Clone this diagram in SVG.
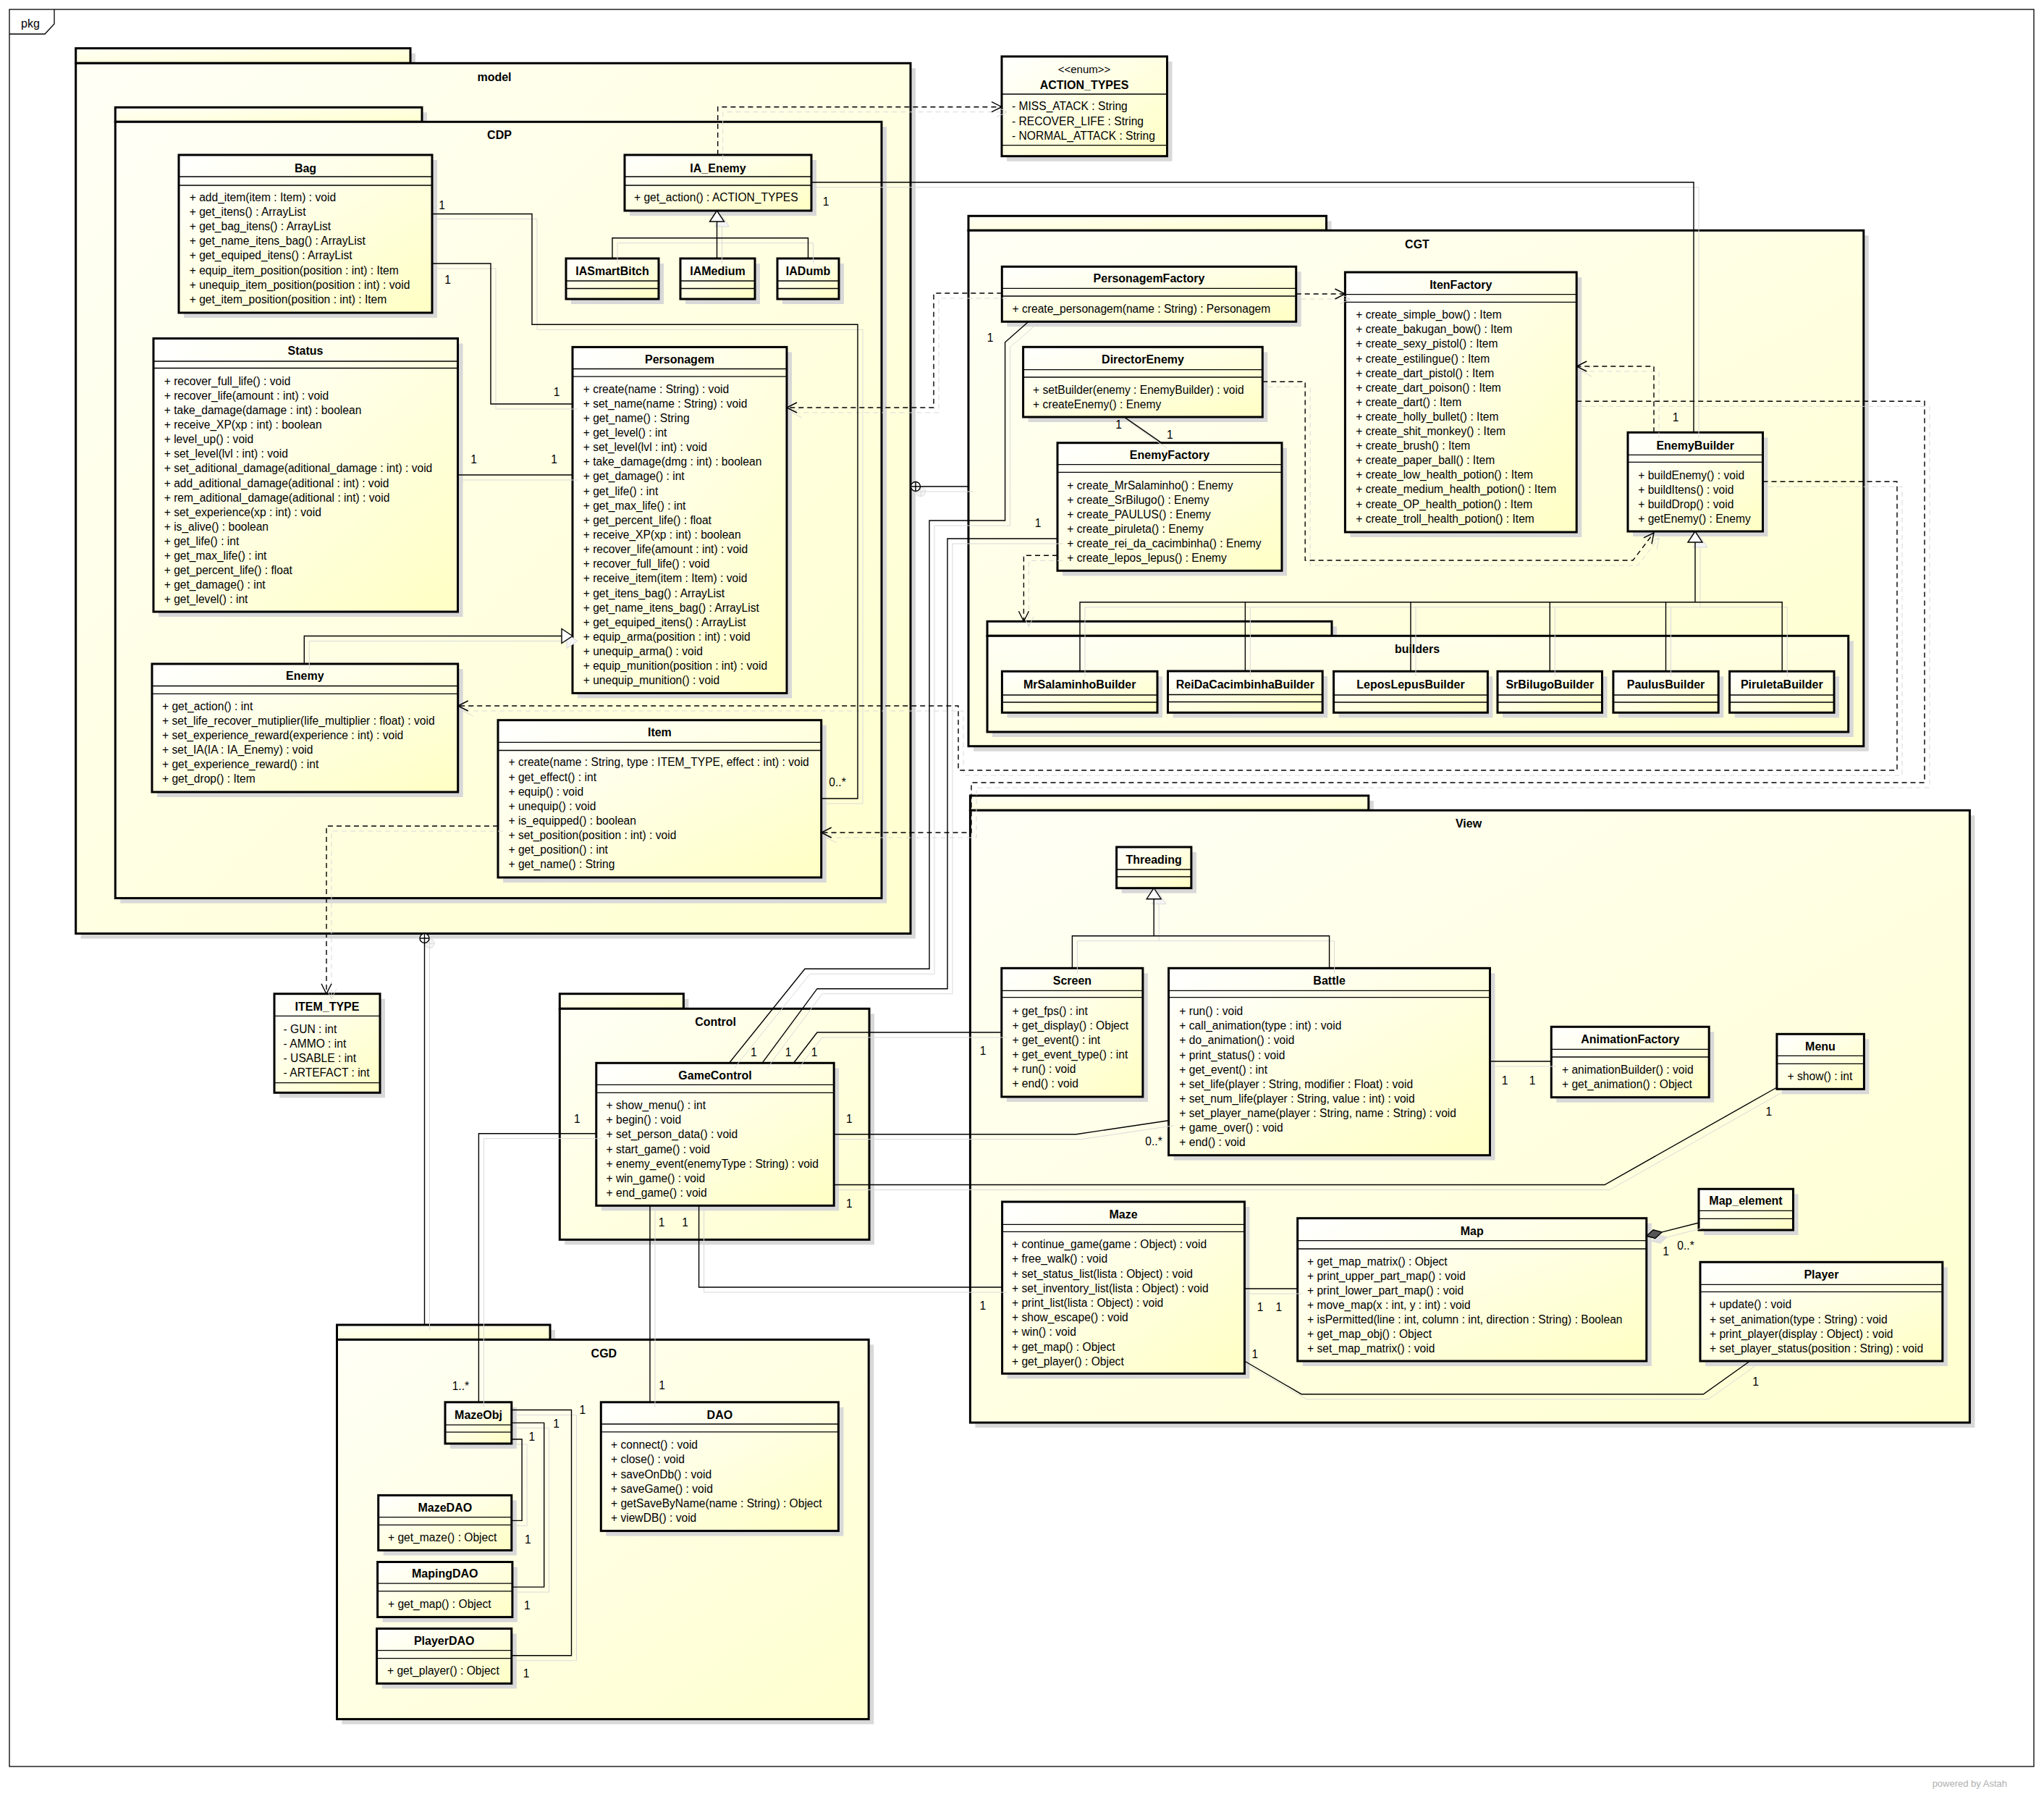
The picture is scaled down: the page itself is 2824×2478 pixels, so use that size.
<svg xmlns="http://www.w3.org/2000/svg" width="2824" height="2478" viewBox="0 0 2824 2478">
<defs>
<style>
text{font-family:"Liberation Sans",Arial,sans-serif;fill:#000}
.t{font-weight:bold;font-size:16px;text-anchor:middle}
.pt{font-weight:bold;font-size:16px;text-anchor:middle}
.m{font-size:15.6px}
.st{font-size:15px;text-anchor:middle}
.l text{font-size:15.6px;text-anchor:middle}
.sh{fill:#d8d8d8}
.b{fill:url(#g);stroke:#000;stroke-width:3}
.pk{fill:url(#gp);stroke:#000;stroke-width:3}
.s{fill:none;stroke:#000;stroke-width:1.3}
.c{fill:none}
.d{fill:none;stroke-dasharray:7 5}
</style>
<linearGradient id="g" x1="0" y1="0" x2="1" y2="1"><stop offset="0" stop-color="#ffffff"/><stop offset="1" stop-color="#ffffc4"/></linearGradient>
<linearGradient id="gp" x1="0" y1="0" x2="1" y2="1"><stop offset="0" stop-color="#fffff6"/><stop offset="1" stop-color="#ffffcf"/></linearGradient>
<path id="oa" d="M-14,-7L0,0L-14,7" fill="none"/>
<path id="tr" d="M0,0L-15,-10L-15,10Z"/>
</defs>
<rect width="2824" height="2478" fill="#fff"/>
<g id="frame">
<rect x="13" y="13" width="2797" height="2427" fill="#fff" stroke="#000" stroke-width="1.3"/>
<path d="M13,47H62L75,33V13" fill="none" stroke="#000" stroke-width="1.3"/>
<text x="42" y="38" style="font-size:16px;text-anchor:middle">pkg</text>
</g>

<g id="pkg-model">
<rect class="sh" x="111.7" y="73.7" width="462.3" height="20.6"/>
<rect class="sh" x="111.7" y="94.3" width="1153.3" height="1202.2"/>
<rect class="pk" x="104.7" y="66.7" width="462.3" height="20.6"/>
<rect class="pk" x="104.7" y="87.3" width="1153.3" height="1202.2"/>
<text class="pt" x="683" y="111.7">model</text>
</g>
<g id="pkg-CDP">
<rect class="sh" x="166.3" y="155.3" width="423.7" height="20"/>
<rect class="sh" x="166.3" y="175.3" width="1058.7" height="1072.3"/>
<rect class="pk" x="159.3" y="148.3" width="423.7" height="20"/>
<rect class="pk" x="159.3" y="168.3" width="1058.7" height="1072.3"/>
<text class="pt" x="690" y="191.7">CDP</text>
</g>
<g id="pkg-CGT">
<rect class="sh" x="1345" y="305.3" width="494.5" height="20"/>
<rect class="sh" x="1345" y="325.3" width="1236.8" height="712.4"/>
<rect class="pk" x="1338" y="298.3" width="494.5" height="20"/>
<rect class="pk" x="1338" y="318.3" width="1236.8" height="712.4"/>
<text class="pt" x="1958" y="342.7">CGT</text>
</g>
<g id="pkg-builders">
<rect class="sh" x="1371" y="865.3" width="476" height="20"/>
<rect class="sh" x="1371" y="885.3" width="1189.7" height="132.7"/>
<rect class="pk" x="1364" y="858.3" width="476" height="20"/>
<rect class="pk" x="1364" y="878.3" width="1189.7" height="132.7"/>
<text class="pt" x="1958" y="902.4">builders</text>
</g>
<g id="pkg-View">
<rect class="sh" x="1347.4" y="1106" width="550.4" height="20.3"/>
<rect class="sh" x="1347.4" y="1126.3" width="1381" height="845.7"/>
<rect class="pk" x="1340.4" y="1099" width="550.4" height="20.3"/>
<rect class="pk" x="1340.4" y="1119.3" width="1381" height="845.7"/>
<text class="pt" x="2029" y="1143.4">View</text>
</g>
<g id="pkg-Control">
<rect class="sh" x="780.3" y="1379.7" width="171.1" height="20.6"/>
<rect class="sh" x="780.3" y="1400.3" width="427.7" height="319"/>
<rect class="pk" x="773.3" y="1372.7" width="171.1" height="20.6"/>
<rect class="pk" x="773.3" y="1393.3" width="427.7" height="319"/>
<text class="pt" x="988.6" y="1416.7">Control</text>
</g>
<g id="pkg-CGD">
<rect class="sh" x="472.5" y="1837" width="294.5" height="20.4"/>
<rect class="sh" x="472.5" y="1857.4" width="734.7" height="524.2"/>
<rect class="pk" x="465.5" y="1830" width="294.5" height="20.4"/>
<rect class="pk" x="465.5" y="1850.4" width="734.7" height="524.2"/>
<text class="pt" x="834.4" y="1874.7">CGD</text>
</g>

<g id="n-ACTION_TYPES">
<rect class="sh" x="1391" y="85" width="228.5" height="137.7"/>
<rect class="b" x="1384" y="78" width="228.5" height="137.7"/>
<path class="s" d="M1384,130H1612.5M1384,200.7H1612.5"/>
<text class="st" x="1498" y="100.8">&lt;&lt;enum&gt;&gt;</text>
<text class="t" x="1498" y="122.5">ACTION_TYPES</text>
<text class="m" x="1398" y="152.2">- MISS_ATACK : String<tspan x="1398" dy="20.3">- RECOVER_LIFE : String</tspan><tspan x="1398" dy="20.3">- NORMAL_ATTACK : String</tspan></text>
</g>

<g id="n-Bag">
<rect class="sh" x="254" y="221" width="350" height="218"/>
<rect class="b" x="247" y="214" width="350" height="218"/>
<path class="s" d="M247,244H597M247,256H597"/>
<text class="t" x="422" y="237.5">Bag</text>
<text class="m" x="261.7" y="278">+ add_item(item : Item) : void<tspan x="261.7" dy="20.1">+ get_itens() : ArrayList</tspan><tspan x="261.7" dy="20.1">+ get_bag_itens() : ArrayList</tspan><tspan x="261.7" dy="20.1">+ get_name_itens_bag() : ArrayList</tspan><tspan x="261.7" dy="20.1">+ get_equiped_itens() : ArrayList</tspan><tspan x="261.7" dy="20.1">+ equip_item_position(position : int) : Item</tspan><tspan x="261.7" dy="20.1">+ unequip_item_position(position : int) : void</tspan><tspan x="261.7" dy="20.1">+ get_item_position(position : int) : Item</tspan></text>
</g>

<g id="n-IA_Enemy">
<rect class="sh" x="870" y="221" width="258" height="77"/>
<rect class="b" x="863" y="214" width="258" height="77"/>
<path class="s" d="M863,244H1121M863,256H1121"/>
<text class="t" x="992" y="237.5">IA_Enemy</text>
<text class="m" x="876" y="278">+ get_action() : ACTION_TYPES</text>
</g>
<g id="n-IASmartBitch">
<rect class="sh" x="789" y="364" width="128" height="56"/>
<rect class="b" x="782" y="357" width="128" height="56"/>
<path class="s" d="M782,388H910M782,398.5H910"/>
<text class="t" x="846" y="380">IASmartBitch</text>
</g>
<g id="n-IAMedium">
<rect class="sh" x="947" y="364" width="103" height="56"/>
<rect class="b" x="940" y="357" width="103" height="56"/>
<path class="s" d="M940,388H1043M940,398.5H1043"/>
<text class="t" x="991.5" y="380">IAMedium</text>
</g>
<g id="n-IADumb">
<rect class="sh" x="1081" y="364" width="85" height="56"/>
<rect class="b" x="1074" y="357" width="85" height="56"/>
<path class="s" d="M1074,388H1159M1074,398.5H1159"/>
<text class="t" x="1116.5" y="380">IADumb</text>
</g>

<g id="n-Status">
<rect class="sh" x="219" y="474.5" width="420.5" height="377.5"/>
<rect class="b" x="212" y="467.5" width="420.5" height="377.5"/>
<path class="s" d="M212,499H632.5M212,508.5H632.5"/>
<text class="t" x="422" y="489.7">Status</text>
<text class="m" x="226.7" y="531.8">+ recover_full_life() : void<tspan x="226.7" dy="20.1">+ recover_life(amount : int) : void</tspan><tspan x="226.7" dy="20.1">+ take_damage(damage : int) : boolean</tspan><tspan x="226.7" dy="20.1">+ receive_XP(xp : int) : boolean</tspan><tspan x="226.7" dy="20.1">+ level_up() : void</tspan><tspan x="226.7" dy="20.1">+ set_level(lvl : int) : void</tspan><tspan x="226.7" dy="20.1">+ set_aditional_damage(aditional_damage : int) : void</tspan><tspan x="226.7" dy="20.1">+ add_aditional_damage(aditional : int) : void</tspan><tspan x="226.7" dy="20.1">+ rem_aditional_damage(aditional : int) : void</tspan><tspan x="226.7" dy="20.1">+ set_experience(xp : int) : void</tspan><tspan x="226.7" dy="20.1">+ is_alive() : boolean</tspan><tspan x="226.7" dy="20.1">+ get_life() : int</tspan><tspan x="226.7" dy="20.1">+ get_max_life() : int</tspan><tspan x="226.7" dy="20.1">+ get_percent_life() : float</tspan><tspan x="226.7" dy="20.1">+ get_damage() : int</tspan><tspan x="226.7" dy="20.1">+ get_level() : int</tspan></text>
</g>

<g id="n-Enemy">
<rect class="sh" x="217" y="924" width="422.7" height="177"/>
<rect class="b" x="210" y="917" width="422.7" height="177"/>
<path class="s" d="M210,947.5H632.7M210,958.3H632.7"/>
<text class="t" x="421.3" y="938.7">Enemy</text>
<text class="m" x="224" y="980.8">+ get_action() : int<tspan x="224" dy="20.1">+ set_life_recover_mutiplier(life_multiplier : float) : void</tspan><tspan x="224" dy="20.1">+ set_experience_reward(experience : int) : void</tspan><tspan x="224" dy="20.1">+ set_IA(IA : IA_Enemy) : void</tspan><tspan x="224" dy="20.1">+ get_experience_reward() : int</tspan><tspan x="224" dy="20.1">+ get_drop() : Item</tspan></text>
</g>

<g id="n-Personagem">
<rect class="sh" x="798" y="486.4" width="296" height="478"/>
<rect class="b" x="791" y="479.4" width="296" height="478"/>
<path class="s" d="M791,509.5H1087M791,520.2H1087"/>
<text class="t" x="939" y="501.7">Personagem</text>
<text class="m" x="805.7" y="542.5">+ create(name : String) : void<tspan x="805.7" dy="20.15">+ set_name(name : String) : void</tspan><tspan x="805.7" dy="20.15">+ get_name() : String</tspan><tspan x="805.7" dy="20.15">+ get_level() : int</tspan><tspan x="805.7" dy="20.15">+ set_level(lvl : int) : void</tspan><tspan x="805.7" dy="20.15">+ take_damage(dmg : int) : boolean</tspan><tspan x="805.7" dy="20.15">+ get_damage() : int</tspan><tspan x="805.7" dy="20.15">+ get_life() : int</tspan><tspan x="805.7" dy="20.15">+ get_max_life() : int</tspan><tspan x="805.7" dy="20.15">+ get_percent_life() : float</tspan><tspan x="805.7" dy="20.15">+ receive_XP(xp : int) : boolean</tspan><tspan x="805.7" dy="20.15">+ recover_life(amount : int) : void</tspan><tspan x="805.7" dy="20.15">+ recover_full_life() : void</tspan><tspan x="805.7" dy="20.15">+ receive_item(item : Item) : void</tspan><tspan x="805.7" dy="20.15">+ get_itens_bag() : ArrayList</tspan><tspan x="805.7" dy="20.15">+ get_name_itens_bag() : ArrayList</tspan><tspan x="805.7" dy="20.15">+ get_equiped_itens() : ArrayList</tspan><tspan x="805.7" dy="20.15">+ equip_arma(position : int) : void</tspan><tspan x="805.7" dy="20.15">+ unequip_arma() : void</tspan><tspan x="805.7" dy="20.15">+ equip_munition(position : int) : void</tspan><tspan x="805.7" dy="20.15">+ unequip_munition() : void</tspan></text>
</g>

<g id="n-Item">
<rect class="sh" x="695" y="1001.7" width="446.7" height="217.3"/>
<rect class="b" x="688" y="994.7" width="446.7" height="217.3"/>
<path class="s" d="M688,1025.3H1134.7M688,1036.5H1134.7"/>
<text class="t" x="911.4" y="1016.7">Item</text>
<text class="m" x="702.5" y="1058.4">+ create(name : String, type : ITEM_TYPE, effect : int) : void<tspan x="702.5" dy="20.1">+ get_effect() : int</tspan><tspan x="702.5" dy="20.1">+ equip() : void</tspan><tspan x="702.5" dy="20.1">+ unequip() : void</tspan><tspan x="702.5" dy="20.1">+ is_equipped() : boolean</tspan><tspan x="702.5" dy="20.1">+ set_position(position : int) : void</tspan><tspan x="702.5" dy="20.1">+ get_position() : int</tspan><tspan x="702.5" dy="20.1">+ get_name() : String</tspan></text>
</g>

<g id="n-ITEM_TYPE">
<rect class="sh" x="386" y="1379.7" width="146" height="136.6"/>
<rect class="b" x="379" y="1372.7" width="146" height="136.6"/>
<path class="s" d="M379,1403.3H525M379,1495.7H525"/>
<text class="t" x="452" y="1395.7">ITEM_TYPE</text>
<text class="m" x="391.6" y="1427.2">- GUN : int<tspan x="391.6" dy="20">- AMMO : int</tspan><tspan x="391.6" dy="20">- USABLE : int</tspan><tspan x="391.6" dy="20">- ARTEFACT : int</tspan></text>
</g>

<g id="n-PersonagemFactory">
<rect class="sh" x="1391.3" y="375.3" width="406.4" height="76"/>
<rect class="b" x="1384.3" y="368.3" width="406.4" height="76"/>
<path class="s" d="M1384.3,398.3H1790.7M1384.3,409H1790.7"/>
<text class="t" x="1587.5" y="390">PersonagemFactory</text>
<text class="m" x="1398.6" y="432.2">+ create_personagem(name : String) : Personagem</text>
</g>
<g id="n-DirectorEnemy">
<rect class="sh" x="1420.6" y="486.3" width="330.7" height="96.7"/>
<rect class="b" x="1413.6" y="479.3" width="330.7" height="96.7"/>
<path class="s" d="M1413.6,510.7H1744.3M1413.6,521H1744.3"/>
<text class="t" x="1579" y="502.4">DirectorEnemy</text>
<text class="m" x="1427" y="543.8">+ setBuilder(enemy : EnemyBuilder) : void<tspan x="1427" dy="20">+ createEnemy() : Enemy</tspan></text>
</g>
<g id="n-EnemyFactory">
<rect class="sh" x="1468" y="618.7" width="310" height="176.6"/>
<rect class="b" x="1461" y="611.7" width="310" height="176.6"/>
<path class="s" d="M1461,641.7H1771M1461,652.3H1771"/>
<text class="t" x="1616" y="634">EnemyFactory</text>
<text class="m" x="1474.3" y="675.5">+ create_MrSalaminho() : Enemy<tspan x="1474.3" dy="20.1">+ create_SrBilugo() : Enemy</tspan><tspan x="1474.3" dy="20.1">+ create_PAULUS() : Enemy</tspan><tspan x="1474.3" dy="20.1">+ create_piruleta() : Enemy</tspan><tspan x="1474.3" dy="20.1">+ create_rei_da_cacimbinha() : Enemy</tspan><tspan x="1474.3" dy="20.1">+ create_lepos_lepus() : Enemy</tspan></text>
</g>
<g id="n-ItenFactory">
<rect class="sh" x="1865.4" y="383" width="319.8" height="359"/>
<rect class="b" x="1858.4" y="376" width="319.8" height="359"/>
<path class="s" d="M1858.4,406.7H2178.2M1858.4,417.3H2178.2"/>
<text class="t" x="2018.3" y="399">ItenFactory</text>
<text class="m" x="1873.2" y="440.2">+ create_simple_bow() : Item<tspan x="1873.2" dy="20.1">+ create_bakugan_bow() : Item</tspan><tspan x="1873.2" dy="20.1">+ create_sexy_pistol() : Item</tspan><tspan x="1873.2" dy="20.1">+ create_estilingue() : Item</tspan><tspan x="1873.2" dy="20.1">+ create_dart_pistol() : Item</tspan><tspan x="1873.2" dy="20.1">+ create_dart_poison() : Item</tspan><tspan x="1873.2" dy="20.1">+ create_dart() : Item</tspan><tspan x="1873.2" dy="20.1">+ create_holly_bullet() : Item</tspan><tspan x="1873.2" dy="20.1">+ create_shit_monkey() : Item</tspan><tspan x="1873.2" dy="20.1">+ create_brush() : Item</tspan><tspan x="1873.2" dy="20.1">+ create_paper_ball() : Item</tspan><tspan x="1873.2" dy="20.1">+ create_low_health_potion() : Item</tspan><tspan x="1873.2" dy="20.1">+ create_medium_health_potion() : Item</tspan><tspan x="1873.2" dy="20.1">+ create_OP_health_potion() : Item</tspan><tspan x="1873.2" dy="20.1">+ create_troll_health_potion() : Item</tspan></text>
</g>
<g id="n-EnemyBuilder">
<rect class="sh" x="2256" y="604.3" width="186.5" height="136.7"/>
<rect class="b" x="2249" y="597.3" width="186.5" height="136.7"/>
<path class="s" d="M2249,628.3H2435.5M2249,638.3H2435.5"/>
<text class="t" x="2342.2" y="620.7">EnemyBuilder</text>
<text class="m" x="2263.2" y="662.2">+ buildEnemy() : void<tspan x="2263.2" dy="20">+ buildItens() : void</tspan><tspan x="2263.2" dy="20">+ buildDrop() : void</tspan><tspan x="2263.2" dy="20">+ getEnemy() : Enemy</tspan></text>
</g>

<g id="n-MrSalaminhoBuilder">
<rect class="sh" x="1391.4" y="934.3" width="214.6" height="57"/>
<rect class="b" x="1384.4" y="927.3" width="214.6" height="57"/>
<path class="s" d="M1384.4,960H1599M1384.4,970H1599"/>
<text class="t" x="1491.7" y="951.4">MrSalaminhoBuilder</text>
</g>
<g id="n-ReiDaCacimbinhaBuilder">
<rect class="sh" x="1620.5" y="934" width="213.7" height="57.3"/>
<rect class="b" x="1613.5" y="927" width="213.7" height="57.3"/>
<path class="s" d="M1613.5,959.5H1827.2M1613.5,969.5H1827.2"/>
<text class="t" x="1720.4" y="950.5">ReiDaCacimbinhaBuilder</text>
</g>
<g id="n-LeposLepusBuilder">
<rect class="sh" x="1849.6" y="934.3" width="212.8" height="57"/>
<rect class="b" x="1842.6" y="927.3" width="212.8" height="57"/>
<path class="s" d="M1842.6,960H2055.4M1842.6,970H2055.4"/>
<text class="t" x="1949" y="951.4">LeposLepusBuilder</text>
</g>
<g id="n-SrBilugoBuilder">
<rect class="sh" x="2076" y="934.3" width="144.5" height="57"/>
<rect class="b" x="2069" y="927.3" width="144.5" height="57"/>
<path class="s" d="M2069,960H2213.5M2069,970H2213.5"/>
<text class="t" x="2141.3" y="951.4">SrBilugoBuilder</text>
</g>
<g id="n-PaulusBuilder">
<rect class="sh" x="2235.9" y="934.3" width="145.3" height="57"/>
<rect class="b" x="2228.9" y="927.3" width="145.3" height="57"/>
<path class="s" d="M2228.9,960H2374.2M2228.9,970H2374.2"/>
<text class="t" x="2301.5" y="951.4">PaulusBuilder</text>
</g>
<g id="n-PiruletaBuilder">
<rect class="sh" x="2396.6" y="934.3" width="144.4" height="57"/>
<rect class="b" x="2389.6" y="927.3" width="144.4" height="57"/>
<path class="s" d="M2389.6,960H2534M2389.6,970H2534"/>
<text class="t" x="2461.8" y="951.4">PiruletaBuilder</text>
</g>

<g id="n-GameControl">
<rect class="sh" x="830.8" y="1475.3" width="328.4" height="197"/>
<rect class="b" x="823.8" y="1468.3" width="328.4" height="197"/>
<path class="s" d="M823.8,1498.3H1152.2M823.8,1509.3H1152.2"/>
<text class="t" x="988" y="1490.7">GameControl</text>
<text class="m" x="837.6" y="1532.2">+ show_menu() : int<tspan x="837.6" dy="20.1">+ begin() : void</tspan><tspan x="837.6" dy="20.1">+ set_person_data() : void</tspan><tspan x="837.6" dy="20.1">+ start_game() : void</tspan><tspan x="837.6" dy="20.1">+ enemy_event(enemyType : String) : void</tspan><tspan x="837.6" dy="20.1">+ win_game() : void</tspan><tspan x="837.6" dy="20.1">+ end_game() : void</tspan></text>
</g>

<g id="n-Threading">
<rect class="sh" x="1549.6" y="1177" width="103.3" height="56.7"/>
<rect class="b" x="1542.6" y="1170" width="103.3" height="56.7"/>
<path class="s" d="M1542.6,1201H1645.9M1542.6,1211H1645.9"/>
<text class="t" x="1594.2" y="1193.4">Threading</text>
</g>
<g id="n-Screen">
<rect class="sh" x="1390.8" y="1344.3" width="195.1" height="177.7"/>
<rect class="b" x="1383.8" y="1337.3" width="195.1" height="177.7"/>
<path class="s" d="M1383.8,1368.3H1578.9M1383.8,1377.7H1578.9"/>
<text class="t" x="1481.4" y="1360">Screen</text>
<text class="m" x="1398.4" y="1402.2">+ get_fps() : int<tspan x="1398.4" dy="20">+ get_display() : Object</tspan><tspan x="1398.4" dy="20">+ get_event() : int</tspan><tspan x="1398.4" dy="20">+ get_event_type() : int</tspan><tspan x="1398.4" dy="20">+ run() : void</tspan><tspan x="1398.4" dy="20">+ end() : void</tspan></text>
</g>
<g id="n-Battle">
<rect class="sh" x="1621.6" y="1344.3" width="443.9" height="258.4"/>
<rect class="b" x="1614.6" y="1337.3" width="443.9" height="258.4"/>
<path class="s" d="M1614.6,1368.3H2058.5M1614.6,1377.7H2058.5"/>
<text class="t" x="1836.6" y="1360">Battle</text>
<text class="m" x="1629.3" y="1402.2">+ run() : void<tspan x="1629.3" dy="20.1">+ call_animation(type : int) : void</tspan><tspan x="1629.3" dy="20.1">+ do_animation() : void</tspan><tspan x="1629.3" dy="20.1">+ print_status() : void</tspan><tspan x="1629.3" dy="20.1">+ get_event() : int</tspan><tspan x="1629.3" dy="20.1">+ set_life(player : String, modifier : Float) : void</tspan><tspan x="1629.3" dy="20.1">+ set_num_life(player : String, value : int) : void</tspan><tspan x="1629.3" dy="20.1">+ set_player_name(player : String, name : String) : void</tspan><tspan x="1629.3" dy="20.1">+ game_over() : void</tspan><tspan x="1629.3" dy="20.1">+ end() : void</tspan></text>
</g>
<g id="n-AnimationFactory">
<rect class="sh" x="2150.3" y="1425.3" width="217.9" height="97.4"/>
<rect class="b" x="2143.3" y="1418.3" width="217.9" height="97.4"/>
<path class="s" d="M2143.3,1449.3H2361.2M2143.3,1460H2361.2"/>
<text class="t" x="2252.3" y="1441">AnimationFactory</text>
<text class="m" x="2158" y="1482.8">+ animationBuilder() : void<tspan x="2158" dy="20">+ get_animation() : Object</tspan></text>
</g>
<g id="n-Menu">
<rect class="sh" x="2461.9" y="1435.3" width="120.5" height="76"/>
<rect class="b" x="2454.9" y="1428.3" width="120.5" height="76"/>
<path class="s" d="M2454.9,1458.3H2575.4M2454.9,1469.3H2575.4"/>
<text class="t" x="2515" y="1451">Menu</text>
<text class="m" x="2469.6" y="1492.2">+ show() : int</text>
</g>
<g id="n-Map_element">
<rect class="sh" x="2354" y="1649.3" width="130.5" height="56.7"/>
<rect class="b" x="2347" y="1642.3" width="130.5" height="56.7"/>
<path class="s" d="M2347,1672.3H2477.5M2347,1683.3H2477.5"/>
<text class="t" x="2412" y="1664.4">Map_element</text>
</g>
<g id="n-Maze">
<rect class="sh" x="1391.6" y="1667" width="334.9" height="237.3"/>
<rect class="b" x="1384.6" y="1660" width="334.9" height="237.3"/>
<path class="s" d="M1384.6,1691.3H1719.5M1384.6,1701.3H1719.5"/>
<text class="t" x="1552" y="1683.4">Maze</text>
<text class="m" x="1398" y="1724.2">+ continue_game(game : Object) : void<tspan x="1398" dy="20.2">+ free_walk() : void</tspan><tspan x="1398" dy="20.2">+ set_status_list(lista : Object) : void</tspan><tspan x="1398" dy="20.2">+ set_inventory_list(lista : Object) : void</tspan><tspan x="1398" dy="20.2">+ print_list(lista : Object) : void</tspan><tspan x="1398" dy="20.2">+ show_escape() : void</tspan><tspan x="1398" dy="20.2">+ win() : void</tspan><tspan x="1398" dy="20.2">+ get_map() : Object</tspan><tspan x="1398" dy="20.2">+ get_player() : Object</tspan></text>
</g>
<g id="n-Map">
<rect class="sh" x="1799.7" y="1689.7" width="482.1" height="197.3"/>
<rect class="b" x="1792.7" y="1682.7" width="482.1" height="197.3"/>
<path class="s" d="M1792.7,1713.7H2274.8M1792.7,1725H2274.8"/>
<text class="t" x="2033.7" y="1706.4">Map</text>
<text class="m" x="1806" y="1747.5">+ get_map_matrix() : Object<tspan x="1806" dy="20.1">+ print_upper_part_map() : void</tspan><tspan x="1806" dy="20.1">+ print_lower_part_map() : void</tspan><tspan x="1806" dy="20.1">+ move_map(x : int, y : int) : void</tspan><tspan x="1806" dy="20.1">+ isPermitted(line : int, column : int, direction : String) : Boolean</tspan><tspan x="1806" dy="20.1">+ get_map_obj() : Object</tspan><tspan x="1806" dy="20.1">+ set_map_matrix() : void</tspan></text>
</g>
<g id="n-Player">
<rect class="sh" x="2356" y="1750.3" width="334.8" height="136.7"/>
<rect class="b" x="2349" y="1743.3" width="334.8" height="136.7"/>
<path class="s" d="M2349,1774.3H2683.8M2349,1784.3H2683.8"/>
<text class="t" x="2516.4" y="1766.4">Player</text>
<text class="m" x="2362" y="1807.2">+ update() : void<tspan x="2362" dy="20.3">+ set_animation(type : String) : void</tspan><tspan x="2362" dy="20.3">+ print_player(display : Object) : void</tspan><tspan x="2362" dy="20.3">+ set_player_status(position : String) : void</tspan></text>
</g>

<g id="n-MazeObj">
<rect class="sh" x="622" y="1943.8" width="91.8" height="57.2"/>
<rect class="b" x="615" y="1936.8" width="91.8" height="57.2"/>
<path class="s" d="M615,1968.2H706.8M615,1978.2H706.8"/>
<text class="t" x="661" y="1960.3">MazeObj</text>
</g>
<g id="n-DAO">
<rect class="sh" x="837.3" y="1943.8" width="328.1" height="177.8"/>
<rect class="b" x="830.3" y="1936.8" width="328.1" height="177.8"/>
<path class="s" d="M830.3,1967H1158.4M830.3,1977.9H1158.4"/>
<text class="t" x="994.4" y="1960.3">DAO</text>
<text class="m" x="844" y="2001.2">+ connect() : void<tspan x="844" dy="20.2">+ close() : void</tspan><tspan x="844" dy="20.2">+ saveOnDb() : void</tspan><tspan x="844" dy="20.2">+ saveGame() : void</tspan><tspan x="844" dy="20.2">+ getSaveByName(name : String) : Object</tspan><tspan x="844" dy="20.2">+ viewDB() : void</tspan></text>
</g>
<g id="n-MazeDAO">
<rect class="sh" x="529.7" y="2072.4" width="184.1" height="76"/>
<rect class="b" x="522.7" y="2065.4" width="184.1" height="76"/>
<path class="s" d="M522.7,2095.7H706.8M522.7,2106.4H706.8"/>
<text class="t" x="614.8" y="2087.5">MazeDAO</text>
<text class="m" x="536" y="2129.1">+ get_maze() : Object</text>
</g>
<g id="n-MapingDAO">
<rect class="sh" x="528.6" y="2164.5" width="186.3" height="76.1"/>
<rect class="b" x="521.6" y="2157.5" width="186.3" height="76.1"/>
<path class="s" d="M521.6,2187.1H707.9M521.6,2197.9H707.9"/>
<text class="t" x="614.8" y="2179.3">MapingDAO</text>
<text class="m" x="536" y="2220.9">+ get_map() : Object</text>
</g>
<g id="n-PlayerDAO">
<rect class="sh" x="527.6" y="2256.6" width="186.2" height="75.8"/>
<rect class="b" x="520.6" y="2249.6" width="186.2" height="75.8"/>
<path class="s" d="M520.6,2279.6H706.8M520.6,2290.7H706.8"/>
<text class="t" x="613.7" y="2272.1">PlayerDAO</text>
<text class="m" x="535" y="2313">+ get_player() : Object</text>
</g>

<use href="#connectors" transform="translate(7,7)" stroke="#d9d9d9" fill="#f4f4f4" color="#e0e0e0"/>
<g stroke="#000" fill="#fff" stroke-width="1.4" color="#555">
<g id="connectors">
<path class="c" d="M597,295.5H735V448.3H1185V1103H1134.7"/>
<path class="c" d="M597,364H678V558H791"/>
<path class="c" d="M632.7,656H791"/>
<path class="c" d="M420.3,917V878.5H776"/>
<use href="#tr" transform="translate(791,878.5)"/>
<path class="c" d="M846,357V328.7H1116.5V357M990.5,357V306"/>
<use href="#tr" transform="translate(990.5,291) rotate(-90)"/>
<path class="d" d="M991.7,214V147.7H1384"/>
<use href="#oa" transform="translate(1384,147.7)"/>
<path class="c" d="M1121,251.7H2340V597.3"/>
<path class="d" d="M1384.3,405H1290V563H1087"/>
<use href="#oa" transform="translate(1087,563) rotate(180)"/>
<path class="d" d="M1790.7,406H1858.4"/>
<use href="#oa" transform="translate(1858.4,406)"/>
<path class="d" d="M1744.3,527.3H1803.2V774H2256L2285,736"/>
<use href="#oa" transform="translate(2285,736) rotate(-52.6)"/>
<path class="c" d="M1554,576.7L1604.6,611.7"/>
<path class="d" d="M1461,767.3H1414.4V858.3"/>
<use href="#oa" transform="translate(1414.4,858.3) rotate(90)"/>
<path class="d" d="M2285,597.3V506H2178.2"/>
<use href="#oa" transform="translate(2178.2,506) rotate(180)"/>
<path class="d" d="M2178.2,554.3H2659V1081H1342V1150H1134.7"/>
<use href="#oa" transform="translate(1134.7,1150) rotate(180)"/>
<path class="d" d="M2435.5,665.3H2621V1064H1324V975H632.7"/>
<use href="#oa" transform="translate(632.7,975) rotate(180)"/>
<path class="c" d="M2342,749V831.7M1492,927.3V831.7H2462.2V927.3M1720.4,831.7V927M1949,831.7V927.3M2141.3,831.7V927.3M2301.5,831.7V927.3"/>
<use href="#tr" transform="translate(2342,734) rotate(-90)"/>
<path class="d" d="M688,1141H451V1372.7"/>
<use href="#oa" transform="translate(451,1372.7) rotate(90)"/>
<circle cx="1265" cy="672" r="6.5"/>
<path class="c" d="M1258.5,672H1338M1265,665.5V678.5"/>
<circle cx="586.5" cy="1296" r="6.5"/>
<path class="c" d="M580,1296H593M586.5,1289.5V1830"/>
<path class="c" d="M1007.5,1468.3L1112,1338.3H1284V719H1388.6V472.7L1421,444.3"/>
<path class="c" d="M1053,1468.3L1129,1365.7H1309V744H1461"/>
<path class="c" d="M1096.5,1468.3L1129,1426H1383.8"/>
<path class="c" d="M1152.2,1566.7H1487L1614.6,1547.7"/>
<path class="c" d="M1152.2,1636.5H2217L2455,1502"/>
<path class="c" d="M823.8,1565.7H661.4V1936.8"/>
<path class="c" d="M898,1665.3V1936.8"/>
<path class="c" d="M965.6,1665.3V1778H1384.6"/>
<path class="c" d="M2058.5,1466H2143.3"/>
<path class="c" d="M1719.5,1780H1792.7"/>
<path class="c" d="M1719.5,1880L1798,1925.7H2353.4L2417.7,1880"/>
<path class="c" d="M2296.1,1701.9L2347,1689"/>
<path d="M2274.8,1707.3L2286.9,1710.4L2296.1,1701.9L2284,1698.8Z" fill="currentColor"/>
<path class="c" d="M1594.2,1241.7V1292.7M1481.4,1337.3V1292.7H1836.6V1337.3"/>
<use href="#tr" transform="translate(1594.2,1226.7) rotate(-90)"/>
<path class="c" d="M706.8,1988H721.1V2100.4H706.8"/>
<path class="c" d="M706.8,1965.4H751.7V2192.1H707.9"/>
<path class="c" d="M706.8,1947.5H789.5V2286.8H706.8"/>
</g>
</g>

<g id="labels" class="l">
<text x="610.7" y="288.5">1</text>
<text x="1157" y="1085.5">0..*</text>
<text x="618.5" y="392.2">1</text>
<text x="769" y="547.1">1</text>
<text x="654.6" y="640">1</text>
<text x="765.5" y="640">1</text>
<text x="1141" y="283.5">1</text>
<text x="2315" y="581.5">1</text>
<text x="1545.7" y="592.2">1</text>
<text x="1616.4" y="606.2">1</text>
<text x="1041.4" y="1458.8">1</text>
<text x="1368" y="471.5">1</text>
<text x="1089" y="1458.8">1</text>
<text x="1434" y="728.2">1</text>
<text x="1125" y="1458.8">1</text>
<text x="1358" y="1456.5">1</text>
<text x="1173.4" y="1550.5">1</text>
<text x="1594" y="1582.2">0..*</text>
<text x="1173.4" y="1667.5">1</text>
<text x="2443.8" y="1540.5">1</text>
<text x="797.4" y="1550.5">1</text>
<text x="636.4" y="1920.1">1..*</text>
<text x="914" y="1693.5">1</text>
<text x="914.5" y="1919.1">1</text>
<text x="946.7" y="1693.5">1</text>
<text x="1357.9" y="1808.8">1</text>
<text x="2079" y="1498.2">1</text>
<text x="2117" y="1498.2">1</text>
<text x="1741" y="1810.5">1</text>
<text x="1766.8" y="1810.5">1</text>
<text x="1733.8" y="1875.5">1</text>
<text x="2425.7" y="1914.2">1</text>
<text x="2301.6" y="1733.8">1</text>
<text x="2329" y="1725.5">0..*</text>
<text x="734.9" y="1989.8">1</text>
<text x="729.3" y="2131.5">1</text>
<text x="768.6" y="1971.9">1</text>
<text x="728.3" y="2222.5">1</text>
<text x="804.8" y="1953.4">1</text>
<text x="727.2" y="2317.3">1</text>
</g>
<text x="2773" y="2468" style="font-size:13px;fill:#b0b0b0;text-anchor:end">powered by Astah</text>
</svg>
